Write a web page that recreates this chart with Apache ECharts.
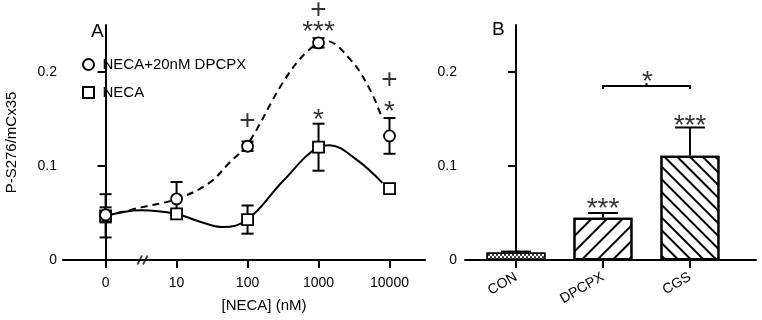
<!DOCTYPE html>
<html>
<head>
<meta charset="utf-8">
<script src="https://cdn.jsdelivr.net/npm/echarts@6/dist/echarts.min.js"></script>
<style>
  html, body { margin: 0; padding: 0; background: #fff; }
  #main { width: 762px; height: 320px; }
</style>
</head>
<body>
<div id="main"></div>
<script>
// panel A: dose response
var doseLabels = ['0', '10', '100', '1000', '10000'];
var doseIndex = [0, 1, 2, 3, 4];
var dpcpxMean = [0.048, 0.065, 0.121, 0.231, 0.132];
var dpcpxSem = [0.008, 0.018, 0.005, 0.005, 0.019];
var necaMean = [0.047, 0.049, 0.043, 0.120, 0.076];
var necaSem = [0.023, 0.004, 0.015, 0.025, 0.005];
// fitted curves
var dashedFitX = [0, 0.5, 1, 1.46, 1.75, 2, 2.5, 2.83, 3.1, 3.44, 3.72, 3.9];
var dashedFitY = [0.047, 0.056, 0.065, 0.082, 0.104, 0.123, 0.189, 0.221, 0.233, 0.214, 0.182, 0.15];
var solidFitX = [0, 0.5, 1, 1.32, 1.65, 2, 2.5, 3, 3.15, 3.53, 3.9];
var solidFitY = [0.047, 0.053, 0.049, 0.041, 0.035, 0.043, 0.084, 0.120, 0.122, 0.107, 0.082];
var signifAX = [2, 3, 3, 3, 4, 4];
var signifAY = [0.148, 0.266, 0.251, 0.157, 0.191, 0.166];
var signifAText = ['+', '+', '***', '*', '+', '*'];
var yTicks = [0, 0.1, 0.2];

// panel B: bars
var groupLabels = ['CON', 'DPCPX', 'CGS'];
var groupIndex = [0, 1, 2];
var groupMean = [0.008, 0.045, 0.111];
var groupSem = [0.001, 0.005, 0.030];
var signifBX = [1, 2, 1.51];
var signifBY = [0.062, 0.151, 0.198];
var signifBText = ['***', '***', '*'];
var bracketB = [1, 2, 0.185];

var FONT = "'Liberation Sans', Arial, sans-serif";
var myChart = echarts.init(document.getElementById('main'));

function errorBar(bothSides, capHalf) {
  return function (params, api) {
    var x = api.value(0);
    var mid = api.coord([x, api.value(1)]);
    var hi = api.coord([x, api.value(1) + api.value(2)]);
    var lo = bothSides ? api.coord([x, api.value(1) - api.value(2)]) : mid;
    var st = { stroke: '#000', lineWidth: 2 };
    var kids = [
      { type: 'line', shape: { x1: lo[0], y1: lo[1], x2: hi[0], y2: hi[1] }, style: st },
      { type: 'line', shape: { x1: hi[0] - capHalf, y1: hi[1], x2: hi[0] + capHalf, y2: hi[1] }, style: st }
    ];
    if (bothSides) {
      kids.push({ type: 'line', shape: { x1: lo[0] - capHalf, y1: lo[1], x2: lo[0] + capHalf, y2: lo[1] }, style: st });
    }
    return { type: 'group', children: kids };
  };
}

function marks(xs, ys, texts) {
  return xs.map(function (x, i) {
    var star = texts[i].indexOf('*') >= 0;
    return {
      value: [x, ys[i], texts[i]],
      label: { offset: [0, star ? 8 : 0] }
    };
  });
}

function zip(a, b) {
  return a.map(function (v, i) { return [v, b[i]]; });
}

var axisBlack = { lineStyle: { color: '#000', width: 2 } };
var tickStyle = { show: true, length: 8, lineStyle: { color: '#000', width: 2 } };
var labelStyle = { color: '#000', fontSize: 14, fontFamily: FONT };

option = {
  animation: false,
  backgroundColor: '#fff',
  graphic: [
    { type: 'text', left: 91, top: 22, style: { text: 'A', font: '19px ' + FONT, fill: '#000' } },
    { type: 'text', left: 492, top: 20, style: { text: 'B', font: '19px ' + FONT, fill: '#000' } }
  ],
  legend: {
    orient: 'vertical',
    left: 77,
    top: 52,
    itemWidth: 18,
    itemHeight: 11,
    itemGap: 13,
    textStyle: { color: '#000', fontSize: 15, fontFamily: FONT },
    data: [
      { name: 'NECA+20nM DPCPX', icon: 'circle' },
      { name: 'NECA', icon: 'path://M0,0H10V10H0Z' }
    ]
  },
  grid: [
    { left: 63, top: 25, width: 362, height: 235 },
    { left: 465, top: 25, width: 291, height: 235 }
  ],
  xAxis: [
    {
      gridIndex: 0, type: 'value', min: -0.6, max: 4.5,
      axisLine: axisBlack,
      axisTick: Object.assign({ customValues: doseIndex }, tickStyle),
      axisLabel: Object.assign({
        customValues: doseIndex, margin: 16,
        formatter: function (v) { return doseLabels[Math.round(v)]; }
      }, labelStyle),
      splitLine: { show: false },
      name: '[NECA] (nM)',
      nameLocation: 'middle',
      nameGap: 38,
      nameTextStyle: { color: '#000', fontSize: 15, fontFamily: FONT, padding: [0, 0, 0, 40] }
    },
    {
      gridIndex: 1, type: 'value', min: -0.586, max: 2.759,
      axisLine: axisBlack,
      axisTick: Object.assign({ customValues: groupIndex }, tickStyle),
      axisLabel: Object.assign({
        customValues: groupIndex, margin: 16, rotate: 30,
        formatter: function (v) { return groupLabels[Math.round(v)]; }
      }, labelStyle),
      splitLine: { show: false }
    }
  ],
  yAxis: [
    {
      gridIndex: 0, type: 'value', min: 0, max: 0.25,
      offset: -8,
      axisLine: { show: true, lineStyle: { color: '#000', width: 2 } },
      axisTick: Object.assign({ customValues: yTicks }, tickStyle),
      axisLabel: Object.assign({ margin: 14, customValues: yTicks }, labelStyle),
      splitLine: { show: false },
      name: 'P-S276/mCx35',
      nameLocation: 'middle',
      nameGap: 52,
      nameTextStyle: { color: '#000', fontSize: 15, fontFamily: FONT }
    },
    {
      gridIndex: 1, type: 'value', min: 0, max: 0.25,
      offset: -6,
      axisLine: { show: true, lineStyle: { color: '#000', width: 2 } },
      axisTick: Object.assign({ customValues: yTicks }, tickStyle),
      axisLabel: Object.assign({ margin: 14, customValues: yTicks }, labelStyle),
      splitLine: { show: false }
    }
  ],
  series: [
    {
      type: 'line', xAxisIndex: 0, yAxisIndex: 0, smooth: 0.4,
      showSymbol: false, silent: true,
      data: zip(dashedFitX, dashedFitY),
      lineStyle: { color: '#000', width: 2, type: [7, 5] }
    },
    {
      type: 'line', xAxisIndex: 0, yAxisIndex: 0, smooth: 0.4,
      showSymbol: false, silent: true,
      data: zip(solidFitX, solidFitY),
      lineStyle: { color: '#000', width: 2 }
    },
    {
      type: 'custom', xAxisIndex: 0, yAxisIndex: 0,
      renderItem: errorBar(true, 6),
      data: doseIndex.map(function (x, i) { return [x, dpcpxMean[i], dpcpxSem[i]]; }),
      z: 3
    },
    {
      type: 'custom', xAxisIndex: 0, yAxisIndex: 0,
      renderItem: errorBar(true, 6),
      data: doseIndex.map(function (x, i) { return [x, necaMean[i], necaSem[i]]; }),
      z: 3
    },
    {
      name: 'NECA+20nM DPCPX',
      type: 'scatter', xAxisIndex: 0, yAxisIndex: 0,
      symbol: 'circle', symbolSize: 11,
      itemStyle: { color: '#fff', borderColor: '#000', borderWidth: 1.8, opacity: 1 },
      data: zip(doseIndex, dpcpxMean),
      z: 5
    },
    {
      name: 'NECA',
      type: 'scatter', xAxisIndex: 0, yAxisIndex: 0,
      symbol: 'rect', symbolSize: 11,
      itemStyle: { color: '#fff', borderColor: '#000', borderWidth: 1.8, opacity: 1 },
      data: zip(doseIndex, necaMean),
      z: 4
    },
    {
      // axis break
      type: 'scatter', xAxisIndex: 0, yAxisIndex: 0, silent: true, clip: false,
      symbol: 'path://M0,10L4,0M5,10L9,0', symbolSize: [10, 9],
      itemStyle: { color: 'none', borderColor: '#000', borderWidth: 1.8 },
      data: [[0.52, 0]],
      z: 6
    },
    {
      type: 'scatter', xAxisIndex: 0, yAxisIndex: 0, silent: true, clip: false,
      symbolSize: 0,
      label: {
        show: true, position: 'inside', color: '#000',
        fontSize: 28, fontFamily: FONT,
        formatter: function (p) { return p.value[2]; }
      },
      data: marks(signifAX, signifAY, signifAText)
    },
    {
      type: 'bar', xAxisIndex: 1, yAxisIndex: 1, barWidth: 59,
      data: [
        {
          value: [groupIndex[0], groupMean[0]],
          itemStyle: {
            color: '#fff', borderColor: '#000', borderWidth: 1.5,
            decal: { symbol: 'rect', color: '#444', dashArrayX: [[2, 2], [0, 2, 2, 0]], dashArrayY: [2, 0] }
          }
        },
        {
          value: [groupIndex[1], groupMean[1]],
          itemStyle: {
            color: '#fff', borderColor: '#000', borderWidth: 2,
            decal: { symbol: 'rect', color: '#000', dashArrayX: [1, 0], dashArrayY: [2, 9], rotation: -Math.PI / 4 }
          }
        },
        {
          value: [groupIndex[2], groupMean[2]],
          itemStyle: {
            color: '#fff', borderColor: '#000', borderWidth: 2,
            decal: { symbol: 'rect', color: '#000', dashArrayX: [1, 0], dashArrayY: [2, 7], rotation: Math.PI / 4 }
          }
        }
      ]
    },
    {
      type: 'custom', xAxisIndex: 1, yAxisIndex: 1,
      renderItem: errorBar(false, 15),
      data: groupIndex.map(function (x, i) { return [x, groupMean[i], groupSem[i]]; }),
      z: 3
    },
    {
      // significance bracket
      type: 'custom', xAxisIndex: 1, yAxisIndex: 1, silent: true,
      renderItem: function (params, api) {
        var a = api.coord([api.value(0), api.value(2)]);
        var b = api.coord([api.value(1), api.value(2)]);
        var m = (a[0] + b[0]) / 2;
        var st = { stroke: '#000', lineWidth: 2, fill: null };
        return {
          type: 'group', children: [
            { type: 'polyline', shape: { points: [[a[0], a[1] + 3], a, b, [b[0], b[1] + 3]] }, style: st },
            { type: 'line', shape: { x1: m, y1: a[1], x2: m, y2: a[1] - 3 }, style: st }
          ]
        };
      },
      data: [bracketB]
    },
    {
      type: 'scatter', xAxisIndex: 1, yAxisIndex: 1, silent: true, clip: false,
      symbolSize: 0,
      label: {
        show: true, position: 'inside', color: '#000',
        fontSize: 28, fontFamily: FONT,
        formatter: function (p) { return p.value[2]; }
      },
      data: marks(signifBX, signifBY, signifBText)
    }
  ]
};

myChart.setOption(option);
</script>
</body>
</html>
